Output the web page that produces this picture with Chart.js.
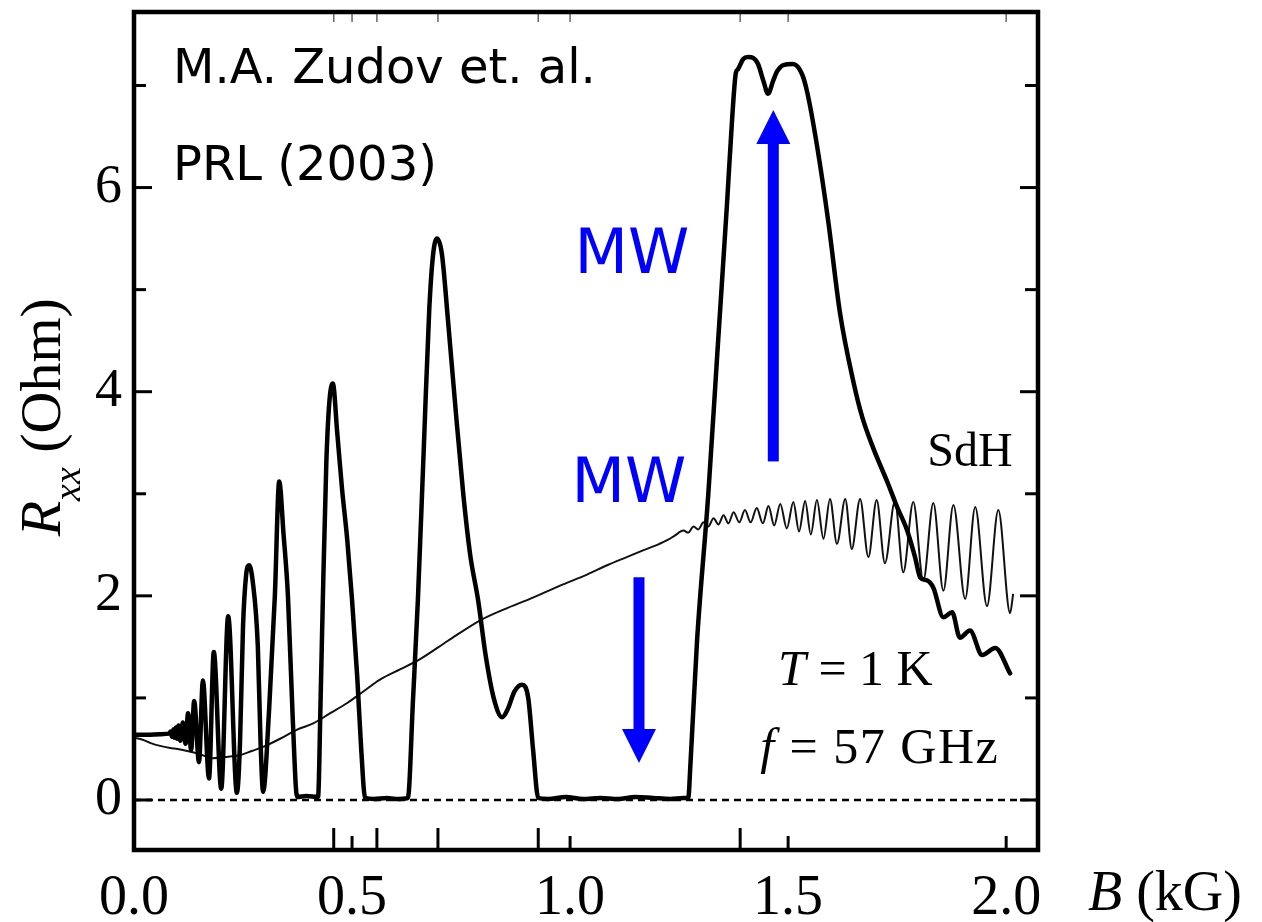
<!DOCTYPE html>
<html><head><meta charset="utf-8">
<script src="https://cdn.jsdelivr.net/npm/chart.js@4.4.1/dist/chart.umd.min.js"></script>
<style>html,body{margin:0;padding:0;background:#fff;}canvas{display:block;}</style>
</head><body>
<canvas id="c" width="1262" height="922"></canvas>
<script>
// ---- data (B in kG, R in Ohm) ----
const mwOnB = [0.000,0.030,0.060,0.080,0.084,0.087,0.090,0.093,0.096,0.099,0.102,0.106,0.112,0.118,0.124,0.131,0.138,0.149,0.158,0.172,0.183,0.200,0.216,0.236,0.243,0.250,0.257,0.264,0.272,0.284,0.290,0.296,0.310,0.323,0.333,0.343,0.353,0.364,0.374,0.395,0.422,0.428,0.433,0.441,0.448,0.456,0.466,0.477,0.489,0.500,0.512,0.521,0.530,0.550,0.580,0.600,0.628,0.640,0.651,0.665,0.677,0.686,0.695,0.706,0.720,0.736,0.755,0.771,0.789,0.807,0.826,0.844,0.858,0.872,0.890,0.904,0.915,0.927,0.950,0.990,1.030,1.070,1.110,1.150,1.190,1.230,1.260,1.271,1.276,1.291,1.317,1.338,1.360,1.372,1.380,1.385,1.397,1.408,1.420,1.431,1.443,1.454,1.466,1.475,1.489,1.511,1.532,1.544,1.567,1.592,1.619,1.649,1.670,1.695,1.729,1.750,1.773,1.791,1.803,1.819,1.833,1.856,1.876,1.894,1.917,1.945,1.975,2.009];
const mwOnR = [0.64,0.64,0.645,0.65,0.67,0.62,0.69,0.61,0.71,0.60,0.73,0.58,0.76,0.55,0.85,0.49,0.97,0.37,1.17,0.21,1.45,0.11,1.80,0.07,0.55,1.70,2.20,2.30,2.15,1.50,0.60,0.08,0.90,2.00,3.12,2.60,2.00,0.80,0.03,0.04,0.03,1.00,1.96,3.30,3.90,4.08,3.60,3.05,2.55,1.96,1.20,0.50,0.02,0.01,0.02,0.01,0.02,1.00,1.96,3.50,4.80,5.35,5.50,5.35,4.70,3.90,3.00,2.40,1.96,1.40,0.98,0.81,0.90,1.06,1.13,1.00,0.50,0.02,0.01,0.03,0.01,0.02,0.01,0.03,0.02,0.01,0.02,0.02,0.35,1.55,3.00,4.40,5.85,6.70,7.12,7.16,7.26,7.28,7.27,7.21,7.05,6.92,7.05,7.14,7.20,7.21,7.11,6.93,6.39,5.67,4.77,4.11,3.75,3.45,3.10,2.87,2.64,2.38,2.18,2.15,2.08,1.79,1.84,1.59,1.66,1.42,1.49,1.24];

const sdhB = [0.000,0.020,0.037,0.060,0.083,0.100,0.122,0.150,0.181,0.210,0.243,0.270,0.296,0.335,0.374,0.411,0.450,0.489,0.525,0.564,0.610,0.656,0.720,0.794,0.850,0.908,0.977,1.040,1.085,1.130,1.170,1.200,1.225,1.240,1.260,1.271,1.283,1.294,1.306,1.317,1.329,1.340,1.352,1.363,1.375,1.388,1.401,1.414,1.428,1.442,1.455,1.468,1.482,1.497,1.512,1.525,1.539,1.552,1.566,1.581,1.596,1.612,1.631,1.646,1.665,1.684,1.703,1.722,1.745,1.764,1.787,1.810,1.833,1.856,1.879,1.906,1.929,1.956,1.982,2.009,2.016];
const sdhR = [0.61,0.59,0.56,0.53,0.51,0.50,0.48,0.45,0.41,0.42,0.44,0.48,0.52,0.60,0.69,0.75,0.85,0.95,1.06,1.18,1.28,1.38,1.56,1.76,1.87,1.97,2.10,2.21,2.30,2.38,2.45,2.50,2.55,2.59,2.64,2.62,2.68,2.65,2.72,2.68,2.76,2.70,2.79,2.71,2.82,2.72,2.84,2.72,2.86,2.71,2.88,2.69,2.90,2.66,2.92,2.63,2.93,2.60,2.94,2.56,2.95,2.51,2.95,2.46,2.95,2.38,2.94,2.32,2.93,2.23,2.92,2.15,2.91,2.05,2.89,1.97,2.87,1.90,2.84,1.83,2.02];

const zeroB = [0.0, 2.073];
const zeroR = [0, 0];

const xTickValues = [0.0, 0.5, 1.0, 1.5, 2.0];
const yTickValues = [0, 2, 4, 6];
const yMinorValues = [1, 3, 5, 7];
const harmonicB = [0.458, 0.557, 0.697, 0.927, 1.39];

// ---- build points ----
const pts = (bs, rs) => bs.map((b, i) => ({x: b, y: rs[i]}));

const SERIF = '"Liberation Serif", "Times New Roman", serif';
const SANS = '"DejaVu Sans", sans-serif';
const BLUE = '#0000ff';

const notes = [
  {segs:[{t:'M.A. Zudov et. al.'}], b:0.0894, r:7.025, size:48, family:SANS, color:'#000', align:'left'},
  {segs:[{t:'PRL (2003)'}], b:0.0894, r:6.07, size:48, family:SANS, color:'#000', align:'left'},
  {segs:[{t:'MW'}], b:1.142, r:5.16, size:62, family:SANS, color:BLUE, align:'center'},
  {segs:[{t:'MW'}], b:1.135, r:2.92, size:62, family:SANS, color:BLUE, align:'center'},
  {segs:[{t:'SdH'}], b:1.819, r:3.27, size:48, family:SERIF, color:'#000', align:'left'},
  {segs:[{t:'T', it:true},{t:' = 1 K'}], b:1.477, r:1.125, size:50, family:SERIF, color:'#000', align:'left'},
  {segs:[{t:'f', it:true},{t:' = 57 GHz'}], b:1.436, r:0.36, size:50, family:SERIF, color:'#000', align:'left', spacing:'1.5px'}
];
const arrows = [
  {b:1.158, from:2.182, to:0.362},
  {b:1.466, from:3.317, to:6.761}
];

function drawSegs(ctx, segs, x, y, size, family, align, spacing){
  const fonts = segs.map(s => (s.it ? 'italic ' : '') + size + 'px ' + family);
  if (spacing && 'letterSpacing' in ctx) ctx.letterSpacing = spacing;
  let total = 0;
  segs.forEach((s,i) => { ctx.font = fonts[i]; total += ctx.measureText(s.t).width; });
  let cx = align === 'center' ? x - total/2 : x;
  ctx.textAlign = 'left'; ctx.textBaseline = 'alphabetic';
  segs.forEach((s,i) => { ctx.font = fonts[i]; ctx.fillText(s.t, cx, y); cx += ctx.measureText(s.t).width; });
  if ('letterSpacing' in ctx) ctx.letterSpacing = '0px';
}

const deco = {
  id: 'deco',
  afterDatasetsDraw(chart){
    const {ctx, chartArea:a, scales:{x, y}} = chart;
    ctx.save();
    const seg = (x1,y1,x2,y2) => { ctx.beginPath(); ctx.moveTo(x1,y1); ctx.lineTo(x2,y2); ctx.stroke(); };
    ctx.strokeStyle = '#000';
    // ticks (inward)
    ctx.lineWidth = 3;
    yTickValues.forEach(v => { const p = y.getPixelForValue(v); seg(a.left,p,a.left+18,p); seg(a.right,p,a.right-18,p); });
    yMinorValues.forEach(v => { const p = y.getPixelForValue(v); seg(a.left,p,a.left+12,p); seg(a.right,p,a.right-13,p); });
    xTickValues.forEach(v => { if (v === 0) return; const p = x.getPixelForValue(v); seg(p,a.bottom,p,a.bottom-14); });
    harmonicB.forEach(v => { const p = x.getPixelForValue(v); seg(p,a.bottom,p,a.bottom-22); });
    ctx.lineWidth = 1.5; ctx.strokeStyle = '#666';
    xTickValues.concat(harmonicB).forEach(v => { if (v === 0) return; const p = x.getPixelForValue(v); seg(p,a.top,p,a.top+10); });
    // frame
    ctx.strokeStyle = '#000'; ctx.lineWidth = 4.5;
    ctx.strokeRect(a.left, a.top, a.right - a.left, a.bottom - a.top);
    // notes
    notes.forEach(n => {
      ctx.fillStyle = n.color;
      drawSegs(ctx, n.segs, x.getPixelForValue(n.b), y.getPixelForValue(n.r), n.size, n.family, n.align, n.spacing);
    });
    // arrows
    ctx.fillStyle = BLUE;
    arrows.forEach(ar => {
      const px = x.getPixelForValue(ar.b), p0 = y.getPixelForValue(ar.from), p1 = y.getPixelForValue(ar.to);
      const dir = p1 > p0 ? 1 : -1, hl = 34, hw = 17, sw = 5.5;
      const base = p1 - dir*hl;
      ctx.fillRect(px - sw, Math.min(p0, base), 2*sw, Math.abs(base - p0));
      ctx.beginPath(); ctx.moveTo(px - hw, base); ctx.lineTo(px + hw, base); ctx.lineTo(px, p1); ctx.closePath(); ctx.fill();
    });
    // x-axis title
    ctx.fillStyle = '#000';
    drawSegs(ctx, [{t:'B', it:true},{t:' (kG)'}], a.right + 50, a.bottom + 60, 56, SERIF, 'left');
    // y-axis title (rotated)
    ctx.save();
    ctx.translate(60, y.getPixelForValue(3.75));
    ctx.rotate(-Math.PI/2);
    const parts = [{t:'R', f:'italic 58px ' + SERIF, dy:0},{t:'xx', f:'italic 38px ' + SERIF, dy:20},{t:' (Ohm)', f:'58px ' + SERIF, dy:0}];
    let tot = 0; parts.forEach(p => { ctx.font = p.f; tot += ctx.measureText(p.t).width; });
    let cx = -tot/2; ctx.textAlign = 'left'; ctx.textBaseline = 'alphabetic';
    parts.forEach(p => { ctx.font = p.f; ctx.fillText(p.t, cx, p.dy); cx += ctx.measureText(p.t).width; });
    ctx.restore();
    ctx.restore();
  }
};

new Chart(document.getElementById('c'), {
  type: 'line',
  data: {
    datasets: [
      {label:'MW', data: pts(mwOnB, mwOnR), borderColor:'#000', borderWidth:4.5, cubicInterpolationMode:'monotone', pointRadius:0, fill:false, borderJoinStyle:'round', borderCapStyle:'round'},
      {label:'SdH', data: pts(sdhB, sdhR), borderColor:'#111', borderWidth:2, cubicInterpolationMode:'monotone', pointRadius:0, fill:false},
      {label:'zero', data: pts(zeroB, zeroR), borderColor:'#000', borderWidth:2.5, borderDash:[7,5], pointRadius:0, fill:false}
    ]
  },
  options: {
    responsive:false, animation:false, devicePixelRatio:1,
    layout:{padding:{left:0, right:224, top:12, bottom:0}},
    plugins:{legend:{display:false}, tooltip:{enabled:false}},
    elements:{point:{radius:0}},
    scales:{
      x:{type:'linear', min:0, max:2.073,
        grid:{display:false, drawTicks:false}, border:{display:false},
        afterBuildTicks: s => { s.ticks = xTickValues.map(v => ({value:v})); },
        afterFit: s => { s.height = 72; s.paddingLeft = 0; s.paddingRight = 0; },
        ticks:{callback: v => Number(v).toFixed(1), font:{family:SERIF, size:56}, color:'#000', padding:16, maxRotation:0, autoSkip:false}
      },
      y:{type:'linear', min:-0.49, max:7.72,
        grid:{display:false, drawTicks:false}, border:{display:false},
        afterBuildTicks: s => { s.ticks = yTickValues.map(v => ({value:v})); },
        afterFit: s => { s.width = 134; s.paddingTop = 0; s.paddingBottom = 0; },
        ticks:{callback: v => String(v), font:{family:SERIF, size:54}, color:'#000', padding:12}
      }
    }
  },
  plugins:[deco]
});
</script>
</body></html>
